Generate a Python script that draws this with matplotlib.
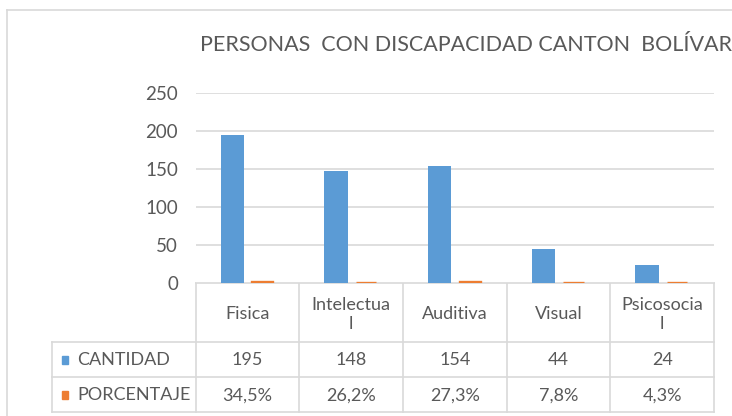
import matplotlib
matplotlib.use("Agg")
import matplotlib.pyplot as plt
from matplotlib.patches import Rectangle
import numpy as np

# datos
categorias = ["Fisica", "Intelectua\nl", "Auditiva", "Visual", "Psicosocia\nl"]
cantidad = [195, 148, 154, 44, 24]
porcentaje = [0.345, 0.262, 0.273, 0.078, 0.043]
series = ["CANTIDAD", "PORCENTAJE"]
yticks = [0, 50, 100, 150, 200, 250]
titulo = "PERSONAS  CON DISCAPACIDAD CANTON  BOLÍVAR"

AZUL = "#5B9BD5"
NARANJA = "#ED7D31"
GRIS = "#595959"
LINEA = "#D9D9D9"

plt.rcParams['font.family'] = ['Lato', 'DejaVu Sans']

W, H = 732, 416
fig = plt.figure(figsize=(W / 100, H / 100), dpi=100)

# area de grafico en pixeles
x0, x1 = 195.5, 714.0
y0, y1 = 282.7, 93.3

ax = fig.add_axes([x0 / W, 1 - y0 / H, (x1 - x0) / W, (y0 - y1) / H])
x = np.arange(len(cantidad))
ax.bar(x - 0.145, cantidad, 0.226, color=AZUL, zorder=3)
ax.bar(x + 0.145, porcentaje, 0.194, color=NARANJA, edgecolor=NARANJA,
       linewidth=2.4, zorder=3)
ax.set_xlim(-0.5, len(cantidad) - 0.5)
ax.set_ylim(0, 250)
ax.set_yticks(yticks)
ax.set_xticks([])
ax.tick_params(axis='y', length=0, pad=12.6, labelsize=13.5, labelcolor=GRIS)
ax.grid(axis='y', color=LINEA, linewidth=1.2, zorder=0)
for s in ax.spines.values():
    s.set_visible(False)

# tabla de datos
tb = fig.add_axes([0, 0, 1, 1], zorder=-1)
tb.set_xlim(0, W)
tb.set_ylim(H, 0)
tb.axis('off')

# borde del grafico
tb.plot([7, 7], [9.5, H], color=LINEA, lw=1.2)
tb.plot([7, W], [9.5, 9.5], color=LINEA, lw=1.2)

tb.text(200, 45, titulo, fontsize=15.5, color=GRIS, ha='left', va='center')

edges = x0 + np.arange(len(cantidad) + 1) * (x1 - x0) / len(cantidad)
filas = [282.7, 341.7, 376.7, 411.7]
izq = 51.7
tb.plot([x0, x1], [filas[0], filas[0]], color=LINEA, lw=1.2)
for yy in filas[1:]:
    tb.plot([izq, x1], [yy, yy], color=LINEA, lw=1.2)
tb.plot([izq, izq], [filas[1], filas[3]], color=LINEA, lw=1.2)
for e in edges:
    tb.plot([e, e], [filas[0], filas[3]], color=LINEA, lw=1.2)

centros = (edges[:-1] + edges[1:]) / 2
for cx, lab in zip(centros, categorias):
    tb.text(cx, (filas[0] + filas[1]) / 2 + 2, lab, fontsize=13, color=GRIS,
            ha='center', va='center', linespacing=1.25)

textos = [[str(v) for v in cantidad],
          [f"{p * 100:.1f}%".replace('.', ',') for p in porcentaje]]
for i, (nombre, color, fila) in enumerate(zip(series, [AZUL, NARANJA], textos)):
    cy = (filas[i + 1] + filas[i + 2]) / 2
    tb.add_patch(Rectangle((61.7, cy - 3.5), 6.7, 8, color=color))
    tb.text(77, cy + 1, nombre, fontsize=13, color=GRIS, ha='left', va='center')
    for cx, t in zip(centros, fila):
        tb.text(cx, cy + 1, t, fontsize=13, color=GRIS, ha='center', va='center')

fig.savefig("out.png", dpi=100)
